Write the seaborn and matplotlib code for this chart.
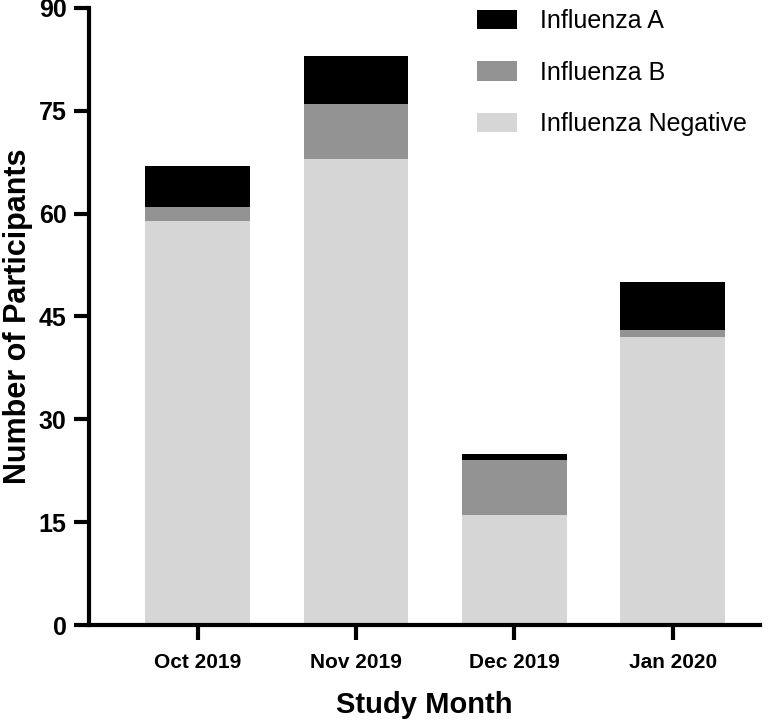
import numpy as np
import matplotlib.pyplot as plt
import pandas as pd
import seaborn as sns

# data
months = ['Oct 2019', 'Nov 2019', 'Dec 2019', 'Jan 2020']
flu_negative = [59, 68, 16, 42]
flu_b = [2, 8, 8, 1]
flu_a = [6, 7, 1, 7]

df = pd.DataFrame({'month': months, 'neg': flu_negative, 'b': flu_b, 'a': flu_a})
df['neg_b'] = df['neg'] + df['b']
df['total'] = df['neg_b'] + df['a']

sns.set_style('ticks')
plt.rcParams['font.family'] = ['Liberation Sans', 'DejaVu Sans']
plt.rcParams['text.color'] = 'black'
plt.rcParams['axes.labelcolor'] = 'black'
plt.rcParams['xtick.color'] = 'black'
plt.rcParams['ytick.color'] = 'black'
plt.rcParams['axes.edgecolor'] = 'black'

fig = plt.figure(figsize=(7.8, 7.23), dpi=100)
ax = fig.add_axes([0.114, 0.1355, 0.86, 0.8535])

# stacked bars: draw cumulative totals from the top layer down
sns.barplot(data=df, x='month', y='total', color='#000000', width=0.66,
            saturation=1, linewidth=0, label='Influenza A', ax=ax)
sns.barplot(data=df, x='month', y='neg_b', color='#939393', width=0.66,
            saturation=1, linewidth=0, label='Influenza B', ax=ax)
sns.barplot(data=df, x='month', y='neg', color='#d6d6d6', width=0.66,
            saturation=1, linewidth=0, label='Influenza Negative', ax=ax)

ax.set_ylim(0, 90)
ax.set_yticks(np.arange(0, 91, 15))
ax.set_xlim(-0.687, 3.55)

ax.set_xlabel('Study Month', fontsize=21, fontweight='bold', labelpad=14)
ax.set_ylabel('Number of Participants', fontsize=22, fontweight='bold', labelpad=4)
for lab in ax.get_xticklabels():
    lab.set_fontsize(15)
    lab.set_fontweight('bold')
for lab in ax.get_yticklabels():
    lab.set_fontsize(18)
    lab.set_fontweight('bold')

sns.despine(ax=ax)
for s in ['left', 'bottom']:
    ax.spines[s].set_linewidth(3)
ax.tick_params(axis='both', width=3, length=11, pad=5)
ax.tick_params(axis='x', pad=9)

ax.legend(loc='upper left', bbox_to_anchor=(0.578, 0.998), frameon=False,
          fontsize=18, handlelength=1.6, handleheight=0.8, labelspacing=1.1,
          handletextpad=0.92, borderpad=0, borderaxespad=0)

fig.savefig('out.png', dpi=100)
